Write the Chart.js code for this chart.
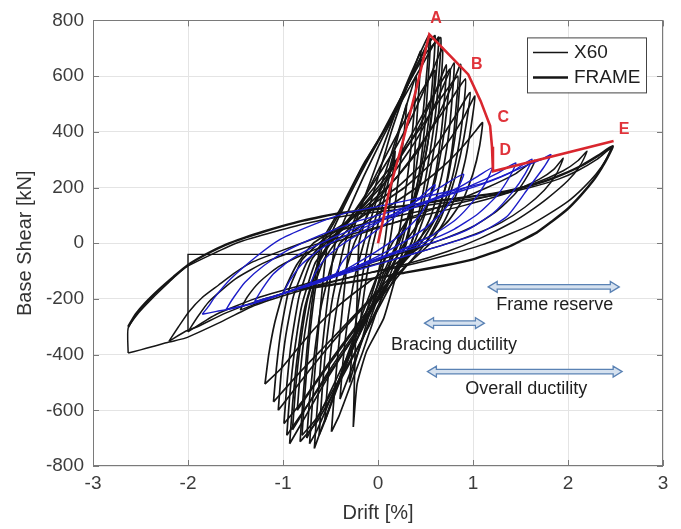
<!DOCTYPE html>
<html>
<head>
<meta charset="utf-8">
<script src="https://cdn.jsdelivr.net/npm/chart.js@4.4.1/dist/chart.umd.min.js"></script>
<style>
  html, body { margin: 0; padding: 0; background: #ffffff; }
  #chart { display: block; }
</style>
</head>
<body>
<canvas id="chart" width="681" height="529"></canvas>
<script>
// ---- axes ----
const xTickValues = [-3, -2, -1, 0, 1, 2, 3];
const yTickValues = [-800, -600, -400, -200, 0, 200, 400, 600, 800];

// ---- red envelope A-B-C-D-E ----
const envelopeDrift = [0, 0.12, 0.25, 0.4, 0.54, 0.95, 1.08, 1.18, 1.2, 1.21, 1.21, 2.48];
const envelopeShear = [0, 190, 350, 550, 750, 606, 511, 422, 346, 263, 258, 367];
const pointNames = ['A', 'B', 'C', 'D', 'E'];
const pointLabelDrift = [0.61, 1.04, 1.32, 1.34, 2.59];
const pointLabelShear = [805, 640, 451, 334, 407];

// ---- double arrows with captions ----
const spanNames = ['Frame reserve', 'Bracing ductility', 'Overall ductility'];
const spanFrom = [1.16, 0.49, 0.52];
const spanTo = [2.54, 1.12, 2.57];
const spanShear = [-157, -287, -461];
const spanTextDrift = [1.86, 0.80, 1.56];
const spanTextShear = [-222, -367, -524];

// ---- X60 brace cycles [drift %, shear kN] ----
const x60Cycle01 = [[-0.2,-330],[-0.17,-240],[-0.12,-120],[-0.05,0],[0.03,110],[0.1,210],[0.18,330],[0.15,230],[0.11,110],[0.07,0],[0.0,-110],[-0.08,-200],[-0.2,-330]];
const x60Cycle02 = [[-0.3,-500],[-0.27,-380],[-0.22,-250],[-0.16,-110],[-0.1,0],[0.0,120],[0.1,240],[0.2,370],[0.3,500],[0.27,380],[0.22,250],[0.17,110],[0.12,0],[0.02,-120],[-0.08,-240],[-0.19,-370],[-0.3,-500]];
const x60Cycle03 = [[-0.26,-660],[-0.25,-520],[-0.24,-380],[-0.22,-200],[-0.2,0],[-0.1,120],[0.02,260],[0.14,400],[0.26,520],[0.36,610],[0.45,690],[0.43,550],[0.4,400],[0.37,220],[0.33,60],[0.2,-104],[0.06,-270],[-0.12,-388],[-0.22,-506],[-0.26,-660]];
const x60Cycle04 = [[-0.49,-677],[-0.46,-540],[-0.42,-390],[-0.37,-220],[-0.3,0],[-0.2,110],[-0.05,250],[0.1,390],[0.25,530],[0.4,650],[0.54,748],[0.51,600],[0.47,450],[0.41,290],[0.34,130],[0.25,0],[0.12,-120],[-0.02,-250],[-0.16,-390],[-0.3,-520],[-0.41,-620],[-0.49,-677]];
const x60Cycle05 = [[-0.67,-737],[-0.64,-590],[-0.6,-420],[-0.54,-230],[-0.45,0],[-0.32,110],[-0.15,240],[0.05,380],[0.25,510],[0.45,630],[0.58,710],[0.64,740],[0.61,600],[0.56,440],[0.48,280],[0.36,120],[0.2,0],[0.04,-120],[-0.14,-260],[-0.32,-410],[-0.48,-560],[-0.6,-670],[-0.67,-737]];
const x60Cycle06 = [[-0.82,-713],[-0.79,-560],[-0.75,-390],[-0.69,-200],[-0.6,0],[-0.4,121],[-0.15,286],[0.13,440],[0.4,630],[0.55,735],[0.53,600],[0.5,450],[0.45,290],[0.38,140],[0.3,0],[0.16,-110],[-0.02,-240],[-0.22,-380],[-0.44,-520],[-0.64,-640],[-0.82,-713]];
const x60Cycle07 = [[-0.9,-670],[-0.87,-530],[-0.82,-370],[-0.74,-200],[-0.62,-70],[-0.5,0],[-0.3,80],[-0.05,180],[0.2,290],[0.42,410],[0.6,540],[0.72,640],[0.7,520],[0.66,380],[0.6,240],[0.5,110],[0.38,0],[0.2,-100],[-0.02,-210],[-0.26,-330],[-0.5,-450],[-0.72,-570],[-0.9,-670]];
const x60Cycle08 = [[-0.99,-648],[-0.96,-510],[-0.91,-350],[-0.83,-190],[-0.7,-60],[-0.55,0],[-0.33,70],[-0.08,160],[0.18,260],[0.42,380],[0.63,520],[0.8,648],[0.78,520],[0.74,380],[0.67,240],[0.56,100],[0.42,0],[0.22,-90],[-0.02,-200],[-0.28,-320],[-0.54,-440],[-0.78,-560],[-0.99,-648]];
const x60Cycle09 = [[-1.1,-570],[-1.07,-450],[-1.02,-310],[-0.94,-170],[-0.8,-60],[-0.62,0],[-0.38,60],[-0.1,140],[0.18,230],[0.42,330],[0.62,450],[0.77,560],[0.87,642],[0.85,520],[0.81,380],[0.74,240],[0.62,100],[0.45,0],[0.24,-80],[0.0,-170],[-0.28,-270],[-0.56,-370],[-0.84,-470],[-1.1,-570]];
const x60Cycle10 = [[-1.19,-506],[-1.15,-400],[-1.09,-290],[-1.0,-180],[-0.86,-80],[-0.68,0],[-0.4,60],[-0.1,130],[0.2,200],[0.45,280],[0.65,370],[0.82,460],[0.97,541],[0.93,430],[0.87,320],[0.78,200],[0.66,90],[0.5,0],[0.2,-70],[-0.1,-140],[-0.4,-220],[-0.65,-300],[-0.85,-380],[-1.02,-450],[-1.19,-506]];
const x60Cycle11 = [[-1.05,-600],[-1.02,-470],[-0.97,-330],[-0.89,-190],[-0.75,-70],[-0.58,0],[-0.32,60],[-0.02,130],[0.28,200],[0.54,280],[0.75,370],[0.9,450],[1.02,528],[0.98,420],[0.92,300],[0.83,180],[0.7,80],[0.55,0],[0.3,-80],[0.02,-170],[-0.26,-270],[-0.54,-380],[-0.8,-490],[-1.05,-600]];
const x60Cycle12 = [[-0.75,-700],[-0.72,-560],[-0.67,-400],[-0.6,-230],[-0.5,-90],[-0.4,0],[-0.15,70],[0.15,140],[0.45,210],[0.7,280],[0.9,350],[1.02,400],[1.1,433],[1.07,350],[1.0,250],[0.9,160],[0.74,80],[0.58,30],[0.4,0],[0.2,-90],[0.0,-200],[-0.2,-330],[-0.4,-460],[-0.58,-590],[-0.75,-700]];
const x60Cycle13 = [[-0.62,-690],[-0.59,-540],[-0.55,-380],[-0.48,-200],[-0.35,0],[-0.2,120],[0.0,260],[0.2,390],[0.38,500],[0.52,580],[0.6,620],[0.57,490],[0.52,350],[0.44,210],[0.32,90],[0.15,0],[0.0,-110],[-0.16,-250],[-0.32,-400],[-0.46,-540],[-0.56,-640],[-0.62,-690]];
const x60Cycle14 = [[-0.56,-640],[-0.53,-500],[-0.48,-340],[-0.4,-170],[-0.25,0],[-0.08,120],[0.12,250],[0.32,370],[0.5,480],[0.65,570],[0.76,625],[0.73,500],[0.68,360],[0.6,220],[0.46,90],[0.28,0],[0.1,-110],[-0.1,-250],[-0.28,-390],[-0.44,-530],[-0.56,-640]];
const x60Cycle15 = [[-0.96,-690],[-0.93,-550],[-0.88,-390],[-0.8,-220],[-0.66,-70],[-0.5,0],[-0.3,90],[-0.06,210],[0.18,340],[0.38,470],[0.55,600],[0.68,700],[0.66,560],[0.62,410],[0.55,260],[0.46,120],[0.35,0],[0.16,-110],[-0.06,-230],[-0.3,-360],[-0.54,-480],[-0.76,-590],[-0.96,-690]];
const x60Cycle16 = [[-0.85,-600],[-0.82,-470],[-0.77,-320],[-0.69,-170],[-0.57,-60],[-0.45,0],[-0.2,90],[0.08,190],[0.34,300],[0.56,410],[0.76,510],[0.92,590],[0.9,480],[0.85,350],[0.77,220],[0.65,100],[0.5,0],[0.28,-90],[0.04,-190],[-0.22,-300],[-0.46,-410],[-0.67,-510],[-0.85,-600]];
const x60Cycle17 = [[-0.72,-720],[-0.69,-570],[-0.65,-400],[-0.6,-210],[-0.53,0],[-0.36,130],[-0.12,290],[0.14,450],[0.38,620],[0.52,710],[0.6,745],[0.58,610],[0.54,460],[0.47,300],[0.36,140],[0.22,0],[0.06,-120],[-0.12,-270],[-0.32,-420],[-0.5,-560],[-0.64,-670],[-0.72,-720]];
const x60Cycle18 = [[-0.8,-690],[-0.77,-540],[-0.73,-370],[-0.67,-190],[-0.58,0],[-0.42,100],[-0.2,250],[0.05,400],[0.3,560],[0.5,680],[0.66,738],[0.64,600],[0.6,450],[0.53,290],[0.45,140],[0.35,0],[0.18,-120],[-0.02,-250],[-0.24,-390],[-0.46,-520],[-0.65,-630],[-0.8,-690]];
const x60Cycle19 = [[-0.93,-720],[-0.9,-580],[-0.85,-410],[-0.77,-230],[-0.64,-80],[-0.52,0],[-0.3,90],[-0.04,200],[0.22,310],[0.46,420],[0.66,520],[0.84,600],[0.82,480],[0.78,340],[0.71,200],[0.58,80],[0.4,0],[0.2,-100],[-0.04,-220],[-0.3,-360],[-0.56,-500],[-0.76,-620],[-0.93,-720]];
const x60Cycle20 = [[-0.4,-560],[-0.37,-430],[-0.32,-280],[-0.25,-130],[-0.15,0],[-0.02,150],[0.12,300],[0.26,450],[0.4,600],[0.38,470],[0.34,320],[0.28,160],[0.2,0],[0.06,-140],[-0.08,-270],[-0.22,-400],[-0.4,-560]];

// ---- X60 large post-fracture cycles ----
const x60Large1 = [[-2.63,-394],[-2.63,-305],[-2.52,-250],[-2.38,-199],[-2.2,-140],[-2.03,-88],[-1.75,-40],[-1.45,5],[-1.1,40],[-0.7,75],[-0.3,100],[0.2,120],[0.7,145],[1.2,170],[1.6,200],[1.9,230],[2.1,260],[2.3,300],[2.45,340],[2.4,300],[2.3,250],[2.15,195],[2.0,150],[1.8,105],[1.6,65],[1.4,35],[1.1,-5],[0.7,-45],[0.3,-80],[-0.2,-115],[-0.6,-150],[-0.98,-187],[-1.33,-228],[-1.68,-287],[-2.03,-341],[-2.2,-355],[-2.38,-372],[-2.5,-383],[-2.63,-394]];
const x60Large2 = [[-2.2,-352],[-2.1,-300],[-1.99,-246],[-1.85,-195],[-1.68,-151],[-1.5,-105],[-1.33,-69],[-1.0,-25],[-0.6,25],[-0.2,65],[0.3,105],[0.8,140],[1.3,180],[1.65,215],[1.95,260],[2.1,295],[2.2,330],[2.13,280],[2.0,225],[1.78,160],[1.6,115],[1.43,78],[1.08,18],[0.73,-30],[0.3,-75],[-0.2,-115],[-0.7,-155],[-1.2,-200],[-1.6,-250],[-1.9,-300],[-2.03,-317],[-2.2,-352]];
const x60Step = [[0.05,-40],[-2.0,-40],[-2.0,-318]];
const x60Large3 = [[-2.0,-318],[-1.9,-265],[-1.78,-210],[-1.5,-128],[-1.19,-69],[-0.8,-20],[-0.3,30],[0.3,85],[0.9,135],[1.4,185],[1.7,230],[1.85,265],[1.95,305],[1.88,250],[1.75,190],[1.55,130],[1.3,75],[1.0,30],[0.6,-15],[0.2,-55],[-0.3,-100],[-0.8,-150],[-1.3,-200],[-1.7,-255],[-2.0,-318]];
const x60Large4 = [[-1.45,-240],[-1.38,-195],[-1.25,-140],[-1.05,-85],[-0.75,-35],[-0.4,10],[0.0,55],[0.4,100],[0.8,150],[1.15,200],[1.45,250],[1.65,298],[1.58,245],[1.45,180],[1.25,115],[1.0,60],[0.65,10],[0.25,-35],[-0.2,-85],[-0.6,-135],[-1.0,-180],[-1.45,-240]];

// ---- FRAME (thick) ----
const frameCurve = [[-2.63,-300],[-2.55,-255],[-2.45,-215],[-2.3,-165],[-2.15,-120],[-2.0,-78],[-1.8,-38],[-1.6,-5],[-1.4,20],[-1.2,42],[-1.0,62],[-0.8,80],[-0.6,95],[-0.4,108],[-0.1,120],[0.3,135],[0.7,155],[1.0,168],[1.2,177],[1.5,198],[1.75,222],[1.93,245],[2.15,280],[2.32,315],[2.47,348],[2.42,310],[2.35,268],[2.27,227],[2.13,170],[1.99,121],[1.83,78],[1.67,38],[1.5,8],[1.36,-15],[1.2,-35],[1.01,-57],[0.7,-80],[0.3,-105],[-0.1,-130],[-0.5,-150],[-0.8,-165]];

// ---- blue cycles ----
const blueCycle1 = [[-1.85,-255],[-1.78,-225],[-1.73,-199],[-1.55,-128],[-1.27,-45],[-1.03,14],[-0.68,67],[-0.33,109],[0.02,133],[0.4,160],[0.8,190],[1.1,215],[1.3,240],[1.45,262],[1.6,285],[1.72,300],[1.82,318],[1.74,270],[1.57,192],[1.36,97],[1.08,38],[0.7,-5],[0.3,-45],[-0.1,-85],[-0.5,-125],[-0.9,-170],[-1.2,-205],[-1.5,-232],[-1.7,-245],[-1.85,-255]];
const blueCycle2 = [[-1.6,-238],[-1.52,-195],[-1.4,-140],[-1.2,-80],[-0.95,-25],[-0.6,30],[-0.25,75],[0.1,110],[0.5,150],[0.9,190],[1.2,225],[1.42,258],[1.62,302],[1.55,250],[1.42,185],[1.22,110],[0.95,50],[0.6,5],[0.2,-35],[-0.2,-80],[-0.6,-130],[-1.0,-180],[-1.3,-215],[-1.6,-238]];
const blueCycle3 = [[-1.3,-210],[-1.22,-165],[-1.1,-110],[-0.9,-55],[-0.6,0],[-0.3,45],[0.0,85],[0.35,125],[0.7,170],[1.0,210],[1.25,250],[1.45,288],[1.38,235],[1.25,170],[1.05,105],[0.8,50],[0.5,5],[0.15,-35],[-0.2,-80],[-0.55,-125],[-0.9,-170],[-1.3,-210]];
const blueCycle4 = [[-1.0,-180],[-0.92,-130],[-0.8,-75],[-0.6,-20],[-0.35,25],[-0.05,70],[0.25,110],[0.55,155],[0.85,200],[1.05,240],[1.2,270],[1.13,215],[1.0,150],[0.82,85],[0.58,30],[0.3,-15],[0.0,-60],[-0.3,-100],[-0.65,-145],[-1.0,-180]];
const blueCycle5 = [[-0.72,-150],[-0.65,-100],[-0.54,-50],[-0.36,0],[-0.12,50],[0.14,100],[0.4,150],[0.65,200],[0.9,248],[0.83,190],[0.7,120],[0.5,55],[0.25,0],[-0.02,-50],[-0.3,-95],[-0.5,-125],[-0.72,-150]];
const blueCycle6 = [[-0.45,-115],[-0.38,-70],[-0.26,-20],[-0.08,30],[0.14,85],[0.36,140],[0.6,210],[0.53,150],[0.4,85],[0.2,20],[-0.02,-30],[-0.24,-75],[-0.45,-115]];

const x60Cycles = [x60Cycle01, x60Cycle02, x60Cycle03, x60Cycle04, x60Cycle05, x60Cycle06, x60Cycle07, x60Cycle08,
  x60Cycle09, x60Cycle10, x60Cycle11, x60Cycle12, x60Cycle13, x60Cycle14, x60Cycle15, x60Cycle16,
  x60Cycle17, x60Cycle18, x60Cycle19, x60Cycle20];
const x60LargeCycles = [x60Large1, x60Large2, x60Large3, x60Large4];
const blueCycles = [blueCycle1, blueCycle2, blueCycle3, blueCycle4, blueCycle5, blueCycle6];

const FONT = "'Liberation Sans', Arial, Helvetica, sans-serif";
const BLACK = '#151515';
const BLUE = '#1c1cc8';
const RED = '#d9262e';

function toPoints(pairs) {
  return pairs.map(p => ({ x: p[0], y: p[1] }));
}

function lineSet(label, data, color, width, tension) {
  return {
    label: label,
    data: data,
    showLine: true,
    borderColor: color,
    borderWidth: width,
    pointRadius: 0,
    pointHoverRadius: 0,
    fill: false,
    tension: tension
  };
}

// dataset 0 is drawn on top, so the order is red, blue, frame, black
const datasets = [];
datasets.push(lineSet('Envelope', envelopeDrift.map((d, i) => ({ x: d, y: envelopeShear[i] })), RED, 2.6, 0));
blueCycles.forEach(c => datasets.push(lineSet('Cycle', toPoints(c), BLUE, 1.4, 0.2)));
datasets.push(lineSet('FRAME', toPoints(frameCurve), BLACK, 2.4, 0.2));
datasets.push(lineSet('X60', toPoints(x60Step), BLACK, 1.4, 0));
x60LargeCycles.forEach(c => datasets.push(lineSet('X60', toPoints(c), BLACK, 1.5, 0.2)));
x60Cycles.forEach(c => datasets.push(lineSet('X60', toPoints(c), BLACK, 1.7, 0.15)));

// Box, inner ticks, legend, letters and arrows
const decorPlugin = {
  id: 'decor',
  afterDatasetsDraw(chart) {
    const { ctx, chartArea: a } = chart;
    ctx.save();
    ctx.strokeStyle = '#7a7a7a';
    ctx.lineWidth = 1;
    ctx.strokeRect(Math.round(a.left) + 0.5, Math.round(a.top) + 0.5,
      Math.round(a.right - a.left) - 1, Math.round(a.bottom - a.top) - 1);
    ctx.beginPath();
    xTickValues.forEach(v => {
      const px = Math.round(chart.scales.x.getPixelForValue(v)) + 0.5;
      ctx.moveTo(px, a.bottom); ctx.lineTo(px, a.bottom - 6);
      ctx.moveTo(px, a.top); ctx.lineTo(px, a.top + 6);
    });
    yTickValues.forEach(v => {
      const py = Math.round(chart.scales.y.getPixelForValue(v)) + 0.5;
      ctx.moveTo(a.left, py); ctx.lineTo(a.left + 6, py);
      ctx.moveTo(a.right, py); ctx.lineTo(a.right - 6, py);
    });
    ctx.stroke();
    ctx.restore();
  },
  afterDraw(chart) {
    const { ctx, chartArea: a } = chart;
    const sx = chart.scales.x, sy = chart.scales.y;
    ctx.save();

    // legend
    const lx = a.right - 136, ly = a.top + 17, lw = 119, lh = 55;
    ctx.fillStyle = '#ffffff';
    ctx.fillRect(lx, ly, lw, lh);
    ctx.strokeStyle = '#444444';
    ctx.lineWidth = 1;
    ctx.strokeRect(lx + 0.5, ly + 0.5, lw, lh);
    ctx.strokeStyle = BLACK;
    ctx.lineWidth = 1.5;
    ctx.beginPath(); ctx.moveTo(lx + 6, ly + 15); ctx.lineTo(lx + 41, ly + 15); ctx.stroke();
    ctx.lineWidth = 2.5;
    ctx.beginPath(); ctx.moveTo(lx + 6, ly + 40); ctx.lineTo(lx + 41, ly + 40); ctx.stroke();
    ctx.fillStyle = '#1e1e1e';
    ctx.font = '19px ' + FONT;
    ctx.textAlign = 'left';
    ctx.textBaseline = 'middle';
    ctx.fillText('X60', lx + 47, ly + 15);
    ctx.fillText('FRAME', lx + 47, ly + 40);

    // envelope letters
    ctx.fillStyle = '#e0333a';
    ctx.font = 'bold 16px ' + FONT;
    ctx.textAlign = 'center';
    pointNames.forEach((n, i) => {
      ctx.fillText(n, sx.getPixelForValue(pointLabelDrift[i]), sy.getPixelForValue(pointLabelShear[i]));
    });

    // double arrows
    spanNames.forEach((name, i) => {
      const x1 = sx.getPixelForValue(spanFrom[i]);
      const x2 = sx.getPixelForValue(spanTo[i]);
      const y = sy.getPixelForValue(spanShear[i]);
      const sw = 2.2, hh = 5.5, hl = 9;
      ctx.beginPath();
      ctx.moveTo(x1, y);
      ctx.lineTo(x1 + hl, y - hh);
      ctx.lineTo(x1 + hl, y - sw);
      ctx.lineTo(x2 - hl, y - sw);
      ctx.lineTo(x2 - hl, y - hh);
      ctx.lineTo(x2, y);
      ctx.lineTo(x2 - hl, y + hh);
      ctx.lineTo(x2 - hl, y + sw);
      ctx.lineTo(x1 + hl, y + sw);
      ctx.lineTo(x1 + hl, y + hh);
      ctx.closePath();
      ctx.fillStyle = '#d5e1ef';
      ctx.fill();
      ctx.strokeStyle = '#5a82b4';
      ctx.lineWidth = 1.3;
      ctx.stroke();

      ctx.fillStyle = '#1e1e1e';
      ctx.font = '18px ' + FONT;
      ctx.fillText(name, sx.getPixelForValue(spanTextDrift[i]), sy.getPixelForValue(spanTextShear[i]));
    });
    ctx.restore();
  }
};

new Chart(document.getElementById('chart'), {
  type: 'scatter',
  data: { datasets: datasets },
  options: {
    responsive: false,
    animation: false,
    devicePixelRatio: 1,
    layout: { padding: { left: 0, right: 18, top: 15, bottom: 0 } },
    plugins: {
      legend: { display: false },
      tooltip: { enabled: false }
    },
    scales: {
      x: {
        type: 'linear',
        min: -3,
        max: 3,
        afterBuildTicks: s => { s.ticks = xTickValues.map(v => ({ value: v })); },
        afterFit: s => { s.height = 63; },
        grid: { color: '#e4e4e4', drawTicks: false },
        border: { display: false },
        ticks: { color: '#3c3c3c', font: { family: FONT, size: 19 }, padding: 6 },
        title: { display: true, text: 'Drift [%]', color: '#333333', font: { family: FONT, size: 20 }, padding: { top: 0, bottom: 4 } }
      },
      y: {
        type: 'linear',
        min: -800,
        max: 800,
        afterBuildTicks: s => { s.ticks = yTickValues.map(v => ({ value: v })); },
        afterFit: s => { s.width = 93; },
        grid: { color: '#e4e4e4', drawTicks: false },
        border: { display: false },
        ticks: { color: '#3c3c3c', font: { family: FONT, size: 19 }, padding: 9 },
        title: { display: true, text: 'Base Shear [kN]', color: '#333333', font: { family: FONT, size: 20 }, padding: { top: 13, bottom: 0 } }
      }
    }
  },
  plugins: [decorPlugin]
});
</script>
</body>
</html>
